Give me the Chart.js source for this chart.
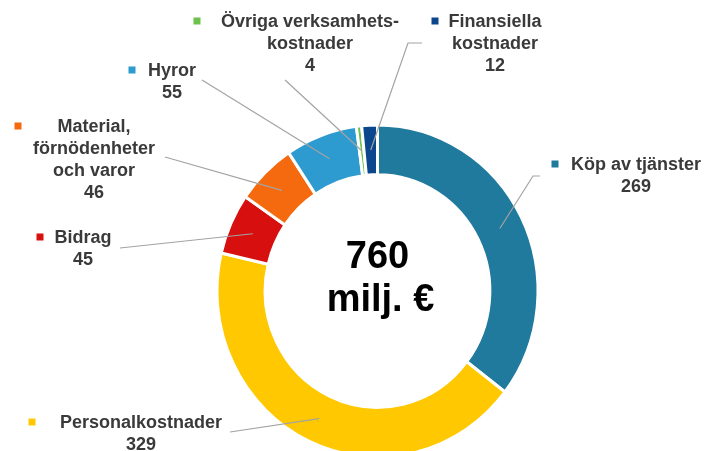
<!DOCTYPE html>
<html>
<head>
<meta charset="utf-8">
<script src="https://cdn.jsdelivr.net/npm/chart.js@4.4.1/dist/chart.umd.min.js"></script>
<style>
  html, body { margin: 0; padding: 0; background: #fff; overflow: hidden; }
  #wrap { width: 707px; height: 460px; position: relative; }
</style>
</head>
<body>
<div id="wrap"><canvas id="costChart"></canvas></div>
<script>
/* ============================
   DATA
============================ */
const categories = [
  ["Köp av tjänster"],
  ["Personalkostnader"],
  ["Bidrag"],
  ["Material,", "förnödenheter", "och varor"],
  ["Hyror"],
  ["Övriga verksamhets-", "kostnader"],
  ["Finansiella", "kostnader"],
];
const values = [269, 329, 45, 46, 55, 4, 12];
const colors = ["#1f7a9d", "#ffc800", "#d7100f", "#f56a0f", "#2d9bcf", "#6cc24a", "#0c468c"];
const unitText = "milj. €";

/* ============================
   LABEL LAYOUT (text centre, marker x, leader start + elbow)
============================ */
const labelLayout = [
  { x: 636, y: 165, mx: 555, line: [[540, 176], [533, 176]] },
  { x: 141, y: 423, mx: 32, line: [[230, 432]] },
  { x: 83, y: 238, mx: 40, line: [[120, 248]] },
  { x: 94, y: 127, mx: 18, line: [[165, 157]] },
  { x: 172, y: 71, mx: 132, line: [[202, 80]] },
  { x: 310, y: 22, mx: 197, line: [[285, 80]] },
  { x: 495, y: 22, mx: 435, line: [[422, 43], [408, 43]] },
];

const LINE_H = 22;
const TEXT_COLOR = "#3a3a3a";
const STRETCH_Y = 1.035; // the source picture is slightly taller than wide

/* ============================
   PLUGINS
============================ */
const stretchRing = {
  id: "stretchRing",
  beforeDatasetsDraw(chart) {
    const arc = chart.getDatasetMeta(0).data[0];
    const ctx = chart.ctx;
    ctx.save();
    ctx.translate(arc.x, arc.y);
    ctx.scale(1, STRETCH_Y);
    ctx.translate(-arc.x, -arc.y);
  },
  afterDatasetsDraw(chart) {
    chart.ctx.restore();
  },
};

const outsideLabels = {
  id: "outsideLabels",
  afterDraw(chart) {
    const ctx = chart.ctx;
    const meta = chart.getDatasetMeta(0);
    ctx.save();
    meta.data.forEach((arc, i) => {
      const lay = labelLayout[i];
      const mid = arc.tooltipPosition();
      const endY = arc.y + (mid.y - arc.y) * STRETCH_Y;

      // leader line
      ctx.beginPath();
      ctx.strokeStyle = "#a3a3a3";
      ctx.lineWidth = 1.2;
      ctx.moveTo(lay.line[0][0], lay.line[0][1]);
      for (let k = 1; k < lay.line.length; k++) ctx.lineTo(lay.line[k][0], lay.line[k][1]);
      ctx.lineTo(mid.x, endY);
      ctx.stroke();

      // marker
      ctx.fillStyle = colors[i];
      ctx.fillRect(lay.mx - 3.5, lay.y - 4.5, 7, 7);

      // text
      ctx.fillStyle = TEXT_COLOR;
      ctx.font = "bold 18px 'Liberation Sans', Arial, sans-serif";
      ctx.textAlign = "center";
      ctx.textBaseline = "middle";
      const lines = categories[i].concat([String(values[i])]);
      lines.forEach((t, k) => ctx.fillText(t, lay.x, lay.y + k * LINE_H));
    });
    ctx.restore();
  },
};

const centerText = {
  id: "centerText",
  afterDraw(chart) {
    const ctx = chart.ctx;
    const arc = chart.getDatasetMeta(0).data[0];
    const total = values.reduce((a, b) => a + b, 0);
    ctx.save();
    ctx.fillStyle = "#000";
    ctx.font = "bold 38px 'Liberation Sans', Arial, sans-serif";
    ctx.textAlign = "center";
    ctx.textBaseline = "middle";
    ctx.fillText(String(total), arc.x, arc.y - 33.5);
    ctx.fillText(unitText, arc.x + 3, arc.y + 10);
    ctx.restore();
  },
};

/* ============================
   CHART
============================ */
const ctx = document.getElementById("costChart").getContext("2d");

new Chart(ctx, {
  type: "doughnut",
  data: {
    labels: categories.map((c) => c.join(" ")),
    datasets: [
      {
        data: values,
        backgroundColor: colors,
        borderColor: "#ffffff",
        borderWidth: 3,
      },
    ],
  },
  options: {
    responsive: true,
    maintainAspectRatio: false,
    animation: false,
    cutout: "70%",
    rotation: 0,
    layout: {
      padding: { left: 215.5, right: 167.5, top: 129, bottom: 7 },
    },
    plugins: {
      legend: { display: false },
      tooltip: { enabled: false },
    },
  },
  plugins: [stretchRing, outsideLabels, centerText],
});
</script>
</body>
</html>
